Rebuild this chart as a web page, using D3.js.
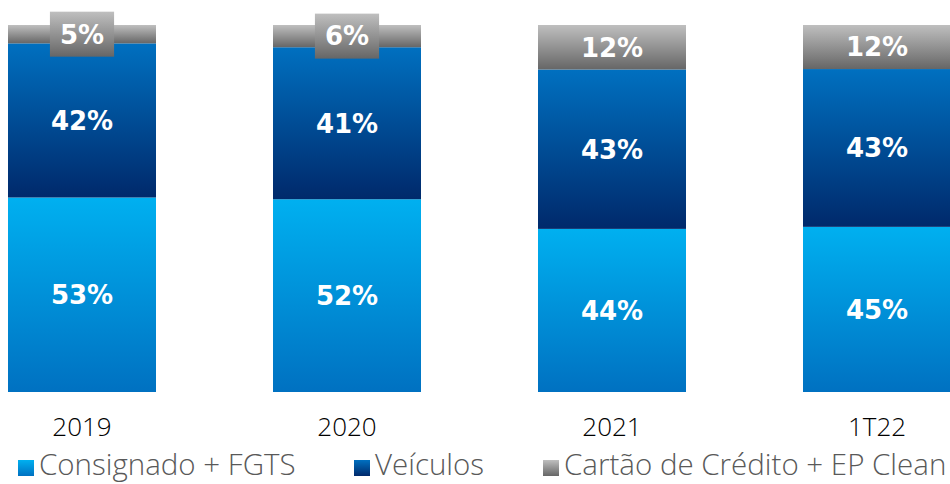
<!DOCTYPE html>
<html>
<head>
<meta charset="utf-8">
<script src="https://cdn.jsdelivr.net/npm/d3@7"></script>
<style>
  html, body { margin: 0; padding: 0; background: #fff; }
  svg { display: block; }
</style>
</head>
<body>
<script>
// Data
const categories = ['2019', '2020', '2021', '1T22'];
const seriesNames = ['Consignado + FGTS', 'Veículos', 'Cartão de Crédito + EP Clean'];
const consignado = [53, 52, 44, 45];
const veiculos = [42, 41, 43, 43];
const cartao = [5, 6, 12, 12];

const width = 950;
const height = 484;

const svg = d3.select('body')
  .append('svg')
  .attr('width', width)
  .attr('height', height);

// gradients (top -> bottom)
const gradColors = [
  ['#00B0F0', '#0071C1'],
  ['#0070C0', '#00296B'],
  ['#BFBFBF', '#666666']
];
const defs = svg.append('defs');
gradColors.forEach((c, i) => {
  const g = defs.append('linearGradient')
    .attr('id', 'grad' + i)
    .attr('x1', 0).attr('y1', 0)
    .attr('x2', 0).attr('y2', 1);
  g.append('stop').attr('offset', '0%').attr('stop-color', c[0]);
  g.append('stop').attr('offset', '100%').attr('stop-color', c[1]);
});

const rows = categories.map((c, i) => ({
  cat: c,
  s0: consignado[i],
  s1: veiculos[i],
  s2: cartao[i]
}));

const stack = d3.stack()
  .keys(['s0', 's1', 's2'])
  .offset(d3.stackOffsetExpand);
const series = stack(rows);

const x = d3.scaleBand()
  .domain(categories)
  .range([8, 951])
  .paddingInner(117 / 265)
  .paddingOuter(0);

const y = d3.scaleLinear()
  .domain([0, 1])
  .range([392, 25]);

// bars
const layers = svg.selectAll('g.layer')
  .data(series)
  .join('g')
  .attr('class', 'layer')
  .attr('fill', (d, i) => `url(#grad${i})`);

layers.selectAll('rect')
  .data(d => d)
  .join('rect')
  .attr('x', d => x(d.data.cat))
  .attr('y', d => y(d[1]))
  .attr('width', x.bandwidth())
  .attr('height', d => y(d[0]) - y(d[1]));

// value labels
const values = [consignado, veiculos, cartao];
series.forEach((s, si) => {
  s.forEach((d, ci) => {
    const cx = x(d.data.cat) + x.bandwidth() / 2;
    const cy = (y(d[0]) + y(d[1])) / 2;
    const segH = y(d[0]) - y(d[1]);
    const g = svg.append('g');
    const t = g.append('text')
      .attr('x', cx)
      .attr('y', cy)
      .attr('dy', '0.36em')
      .attr('text-anchor', 'middle')
      .attr('fill', '#fff')
      .attr('font-family', '"DejaVu Sans", sans-serif')
      .attr('font-weight', 'bold')
      .attr('font-size', 26)
      .text(values[si][ci] + '%');
    // small segments get a box behind the label
    if (segH < 30) {
      const bb = t.node().getBBox();
      g.insert('rect', 'text')
        .attr('x', bb.x - 10)
        .attr('y', cy - 22.5)
        .attr('width', bb.width + 20)
        .attr('height', 45)
        .attr('fill', `url(#grad${si})`);
    }
  });
});

// x axis labels
const xAxis = svg.append('g')
  .attr('transform', 'translate(0,436)')
  .call(d3.axisBottom(x).tickSize(0).tickPadding(0));
xAxis.select('.domain').remove();
xAxis.selectAll('text')
  .attr('dy', 0)
  .attr('fill', '#000')
  .attr('font-family', '"Open Sans", sans-serif')
  .attr('font-weight', 300)
  .attr('font-size', 26);

// legend
const legendX = [18, 354, 543];
const legend = svg.append('g');
seriesNames.forEach((name, i) => {
  legend.append('rect')
    .attr('x', legendX[i])
    .attr('y', 460)
    .attr('width', 16)
    .attr('height', 16)
    .attr('fill', `url(#grad${i})`);
  legend.append('text')
    .attr('x', legendX[i] + 21)
    .attr('y', 475)
    .attr('fill', '#595959')
    .attr('font-family', '"Open Sans", sans-serif')
    .attr('font-weight', 300)
    .attr('font-size', 29.5)
    .text(name);
});
</script>
</body>
</html>
